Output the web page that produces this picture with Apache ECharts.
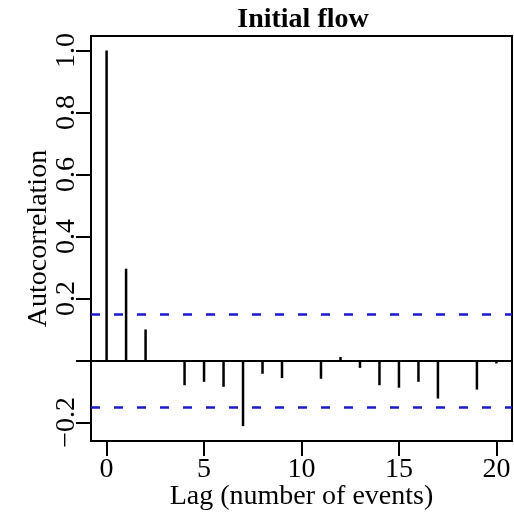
<!DOCTYPE html>
<html>
<head>
<meta charset="utf-8">
<script src="https://cdn.jsdelivr.net/npm/echarts@6/dist/echarts.min.js"></script>
<style>html,body{margin:0;padding:0;background:#fff;}#c{width:514px;height:513px;}</style>
</head>
<body>
<div id="c"></div>
<script>
const lags = [0,1,2,3,4,5,6,7,8,9,10,11,12,13,14,15,16,17,18,19,20];
const acf = [1.0,0.296,0.10,-0.005,-0.08,-0.069,-0.085,-0.212,-0.043,-0.057,-0.005,-0.059,0.011,-0.024,-0.08,-0.088,-0.069,-0.123,-0.005,-0.094,-0.01];
const ciBound = 0.153;
const xTicks = [0,5,10,15,20];
const yTicks = [-0.2,0,0.2,0.4,0.6,0.8,1.0];
const yLabels = [-0.2,0.2,0.4,0.6,0.8,1.0];
const titleText = 'Initial flow';
const xName = 'Lag (number of events)';
const yName = 'Autocorrelation';

const font = 'Liberation Serif';
const chart = echarts.init(document.getElementById('c'), null, {renderer:'canvas'});
chart.setOption({
  animation:false,
  backgroundColor:'#fff',
  title:{text:titleText,left:298,top:1,textAlign:'center',
    textStyle:{fontFamily:font,fontSize:28,fontWeight:'bold',color:'#000'}},
  grid:{left:91,right:2,top:36,bottom:72,outerBoundsMode:'none',containLabel:false,show:true,borderColor:'#000',borderWidth:2,backgroundColor:'transparent'},
  xAxis:{type:'value',min:-0.8,max:20.8,
    name:xName,nameLocation:'middle',nameGap:42,nameMoveOverlap:false,
    nameTextStyle:{fontFamily:font,fontSize:28,color:'#000'},
    axisLine:{show:false,onZero:false},
    splitLine:{show:false},
    axisTick:{show:true,length:15,inside:false,customValues:xTicks,lineStyle:{color:'#000',width:2}},
    axisLabel:{customValues:xTicks,margin:15,fontFamily:font,fontSize:28,color:'#000',formatter:v=>String(v)}
  },
  yAxis:{type:'value',min:-0.26,max:1.047,
    name:yName,nameLocation:'middle',nameGap:38,nameMoveOverlap:false,
    nameTextStyle:{fontFamily:font,fontSize:28,color:'#000'},
    axisLine:{show:false,onZero:false},
    splitLine:{show:false},
    axisTick:{show:true,length:15,inside:false,customValues:yTicks,lineStyle:{color:'#000',width:2}},
    axisLabel:{customValues:yLabels,rotate:90,margin:10,fontFamily:font,fontSize:28,color:'#000',
      formatter:v=>{const s=(Math.round(v*10)/10).toFixed(1);return s.startsWith('-')?'\u2212'+s.slice(1):s;}}
  },
  series:[{
    type:'bar',barWidth:2.5,
    data:lags.map((l,i)=>[l,acf[i]]),
    itemStyle:{color:'#000'},
    markLine:{symbol:'none',silent:true,label:{show:false},
      data:[
        {yAxis:ciBound,lineStyle:{color:'#1a1acc',width:2.5,type:[9,14]}},
        {yAxis:-ciBound,lineStyle:{color:'#1a1acc',width:2.5,type:[9,14]}},
        {yAxis:0,lineStyle:{color:'#000',width:2,type:'solid'}}
      ]}
  }]
});
</script>
</body>
</html>
